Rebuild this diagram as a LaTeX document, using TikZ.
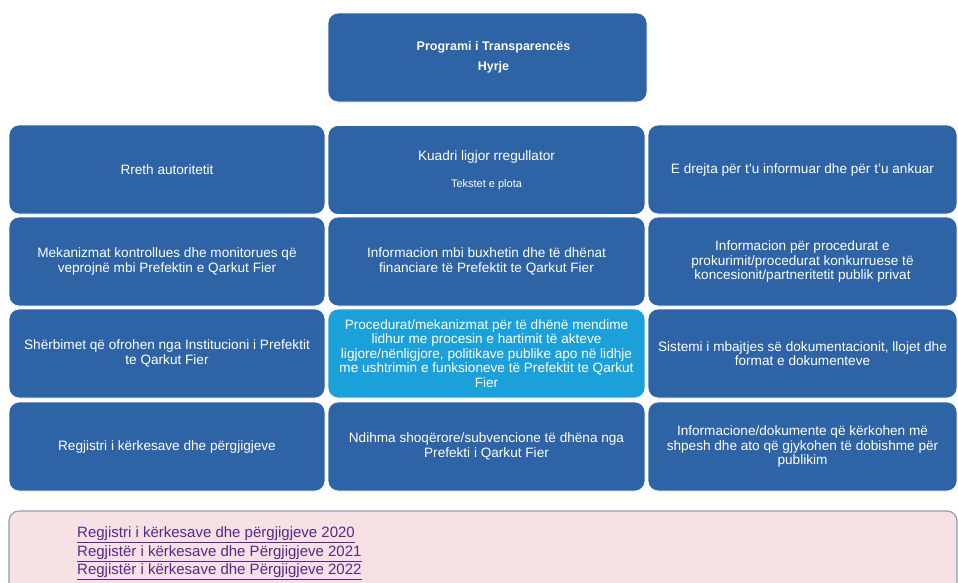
\documentclass[tikz,border=0pt]{standalone}
\usepackage{fontspec}
\setmainfont{Liberation Sans}
\definecolor{boxblue}{RGB}{46,99,166}
\definecolor{boxcyan}{RGB}{28,160,218}
\definecolor{pinkfill}{RGB}{246,226,228}
\definecolor{pinkedge}{RGB}{140,158,178}
\definecolor{linkpurple}{RGB}{88,38,140}
\tikzset{
  tile/.style={rectangle, rounded corners=10pt, fill=boxblue, draw=white,
    line width=0.8pt, text=white, align=center, inner sep=0pt,
    font=\fontsize{13.6}{14.5}\selectfont},
  c1/.style={tile, minimum width=316pt, minimum height=89pt},
  c2/.style={tile, minimum width=317pt, minimum height=89pt},
  c3/.style={tile, minimum width=309pt, minimum height=89pt},
  hilite/.style={fill=boxcyan},
  linkbox/.style={rectangle, rounded corners=10pt, fill=pinkfill, draw=pinkedge, line width=1.1pt},
  linktext/.style={text=linkpurple, align=left, inner sep=0pt, font=\fontsize{15}{18.5}\selectfont}
}
\begin{document}
\begin{tikzpicture}[x=1pt,y=-1pt]
\useasboundingbox (0,0) rectangle (958,582);
\clip (0,0) rectangle (958,582);
\fill[white] (0,0) rectangle (958,582);

\node[tile, minimum width=319pt, minimum height=89pt, font=\fontsize{12.5}{13.5}\selectfont\bfseries] (top) at (487.5,57.5)
  {\hspace*{12pt}Programi i Transparencës\\[6.5pt]\hspace*{12pt}Hyrje};

% row 1
\node[c1] (a1) at (167,169.5) {Rreth autoritetit};
\node[c2] (b1) at (486.5,170) {Kuadri ligjor rregullator\\[13pt]{\fontsize{11}{12}\selectfont Tekstet e plota}};
\node[c3] (d1) at (802.5,169.5) {E drejta për t'u informuar dhe për t'u ankuar};

% row 2
\node[c1] (a2) at (167,261.5) {Mekanizmat kontrollues dhe monitorues që\\veprojnë mbi Prefektin e Qarkut Fier};
\node[c2] (b2) at (486.5,261.5) {Informacion mbi buxhetin dhe të dhënat\\financiare të Prefektit te Qarkut Fier};
\node[c3] (d2) at (802.5,261.5) {Informacion për procedurat e\\prokurimit/procedurat konkurruese të\\koncesionit/partneritetit publik privat};

% row 3
\node[c1] (a3) at (167,353.5) {Shërbimet që ofrohen nga Institucioni i Prefektit\\te Qarkut Fier};
\node[c2, hilite] (b3) at (486.5,353.5) {Procedurat/mekanizmat për të dhënë mendime\\lidhur me procesin e hartimit të akteve\\ligjore/nënligjore, politikave publike apo në lidhje\\me ushtrimin e funksioneve të Prefektit te Qarkut\\Fier};
\node[c3] (d3) at (802.5,353.5) {Sistemi i mbajtjes së dokumentacionit, llojet dhe\\format e dokumenteve};

% row 4
\node[c1] (a4) at (167,446.5) {Regjistri i kërkesave dhe përgjigjeve};
\node[c2] (b4) at (486.5,446.5) {Ndihma shoqërore/subvencione të dhëna nga\\Prefekti i Qarkut Fier};
\node[c3] (d4) at (802.5,446.5) {Informacione/dokumente që kërkohen më\\shpesh dhe ato që gjykohen të dobishme për\\publikim};

% links box
\draw[linkbox] (9,511) rectangle (957,620);
\node[linktext, anchor=west] (links) at (77,553.5)
  {\underline{Regjistri i kërkesave dhe përgjigjeve 2020}\\
   \underline{Regjistër i kërkesave dhe Përgjigjeve 2021}\\
   \underline{Regjistër i kërkesave dhe Përgjigjeve 2022}};
\end{tikzpicture}
\end{document}
